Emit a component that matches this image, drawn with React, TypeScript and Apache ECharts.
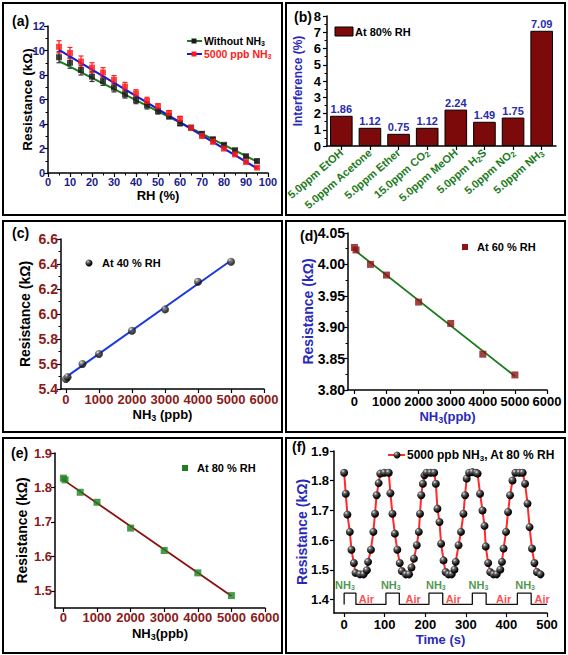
import React, { useEffect, useRef } from "react";
import * as echarts from "echarts";

const FONT = "'Liberation Sans', Arial, Helvetica, sans-serif";

// ---------- (a) Resistance vs RH ----------
const RH = [5, 10, 15, 20, 25, 30, 35, 40, 45, 50, 55, 60, 65, 70, 75, 80, 85, 90, 95];
const R_WITHOUT = [9.45, 9.0, 8.4, 7.87, 7.5, 6.97, 6.42, 5.96, 5.53, 5.06, 4.62, 4.06, 3.7, 3.2, 2.75, 2.3, 1.86, 1.37, 0.98];
const ERR_WITHOUT = [0.45, 0.45, 0.4, 0.4, 0.35, 0.35, 0.3, 0.3, 0.3, 0.25, 0.2, 0.2, 0.15, 0.15, 0.15, 0.1, 0.1, 0.1, 0.1];
const R_NH3 = [10.3, 9.8, 9.1, 8.6, 8.2, 7.6, 7.05, 6.5, 5.88, 5.45, 4.9, 4.42, 3.7, 3.02, 2.55, 1.99, 1.52, 0.9, 0.44];
const ERR_NH3 = [0.5, 0.45, 0.45, 0.4, 0.4, 0.35, 0.35, 0.3, 0.3, 0.2, 0.2, 0.2, 0.15, 0.15, 0.15, 0.1, 0.1, 0.1, 0.1];
const FIT_WITHOUT = [[5, 9.13], [95, 0.93]];
const FIT_NH3 = [[5, 10.05], [95, 0.38]];

// ---------- (b) Interference ----------
const GASES = ["5.0ppm EtOH", "5.0ppm Acetone", "5.0ppm Ether", "15.0ppm CO2", "5.0ppm MeOH", "5.0ppm H2S", "5.0ppm NO2", "5.0ppm NH3"];
const INTERFERENCE = [1.86, 1.12, 0.75, 1.12, 2.24, 1.49, 1.75, 7.09];

// ---------- (c)(d)(e) Resistance vs NH3 ----------
const PPB = [0, 50, 500, 1000, 2000, 3000, 4000, 5000];
const R_40 = [5.48, 5.495, 5.6, 5.68, 5.866, 6.037, 6.258, 6.418];
const FIT_40 = [[0, 5.495], [5000, 6.428]];
const R_60 = [4.027, 4.023, 4.0, 3.983, 3.94, 3.906, 3.857, 3.824];
const FIT_60 = [[0, 4.023], [5000, 3.822]];
const R_80 = [1.827, 1.822, 1.786, 1.757, 1.682, 1.617, 1.552, 1.486];
const FIT_80 = [[0, 1.822], [5000, 1.485]];
const PPB_TICKS = [0, 1000, 2000, 3000, 4000, 5000, 6000];

// ---------- (f) dynamic response ----------
const CYCLE = [
  [0, 1.827], [4, 1.756], [8, 1.686], [14, 1.628], [18, 1.568], [24, 1.523], [28, 1.49], [39, 1.485], [48, 1.485],
  [56, 1.499], [59, 1.527], [66, 1.568], [72, 1.628], [76, 1.689], [80, 1.751], [85, 1.792], [89, 1.824], [99, 1.827], [110, 1.827],
  [114, 1.758], [119, 1.689], [125, 1.622], [131, 1.568], [137, 1.523], [142, 1.496], [152, 1.485], [160, 1.485],
  [166, 1.508], [172, 1.538], [179, 1.583], [184, 1.628], [187, 1.689], [190, 1.751], [194, 1.79], [198, 1.818], [203, 1.827], [213, 1.827], [222, 1.827],
  [226, 1.79], [230, 1.706], [235, 1.661], [239, 1.588], [245, 1.532], [250, 1.493], [257, 1.485], [265, 1.485],
  [272, 1.501], [275, 1.527], [282, 1.583], [288, 1.628], [294, 1.689], [298, 1.751], [302, 1.807], [308, 1.827], [316, 1.829], [325, 1.827], [329, 1.824],
  [335, 1.756], [341, 1.7], [346, 1.648], [349, 1.579], [355, 1.523], [360, 1.493], [368, 1.485], [376, 1.485],
  [385, 1.501], [389, 1.527], [393, 1.572], [399, 1.628], [404, 1.695], [409, 1.751], [415, 1.801], [422, 1.827], [432, 1.827], [440, 1.827],
  [446, 1.79], [452, 1.723], [457, 1.644], [463, 1.572], [469, 1.523], [475, 1.493], [484, 1.485],
];
const PULSES = [[0, 29], [103, 136], [209, 243], [316, 350], [427, 461]];
const PULSE_LOW = 1.384;
const PULSE_HIGH = 1.422;
const PULSE_END = 500;
const NH3_LABEL_T = [2, 115, 226, 331, 446];
const NH3_LABEL_Y = 1.448;
const AIR_LABEL_T = [55, 170, 269, 393, 488];
const AIR_LABEL_Y = 1.403;
const TIME_TICKS = [0, 100, 200, 300, 400, 500];
const F_TICKS_Y = [1.4, 1.5, 1.6, 1.7, 1.8, 1.9];
const E_TICKS_Y = [1.5, 1.6, 1.7, 1.8, 1.9];

const subscript = (s: string) => s.replace(/([A-Z])(\d)/g, "$1{s|$2}");

const NAVY = "#1c1c8a";
const DARKRED = "#8b1a1a";
const BLUE = "#2a2ab8";
const GREEN = "#1e7b1e";

function sphere() {
  return new echarts.graphic.RadialGradient(0.35, 0.3, 0.75, [
    { offset: 0, color: "#f0f0f0" },
    { offset: 0.25, color: "#6a6a6a" },
    { offset: 0.7, color: "#111111" },
    { offset: 1, color: "#000000" },
  ]);
}

function subRich(size: number, color: string) {
  return {
    s: { fontSize: size, fontWeight: "bold", fontFamily: FONT, color, padding: [Math.round(size * 0.7), 0, 0, 0] },
  };
}

const plain = (v: number) => String(v);

function axisBase(labelColor: string, labelSize: number, margin: number) {
  return {
    nameMoveOverlap: false,
    axisLine: { show: true, onZero: false, lineStyle: { color: "#000", width: 1.5 } },
    axisTick: { show: true, length: 4, lineStyle: { color: "#000", width: 1.2 } },
    splitLine: { show: false },
    axisLabel: { color: labelColor, fontSize: labelSize, fontWeight: "bold", fontFamily: FONT, margin },
  };
}

function nameStyle(color: string, size: number) {
  return {
    color,
    fontSize: size,
    fontWeight: "bold",
    fontFamily: FONT,
    rich: subRich(Math.round(size * 0.7), color),
  };
}

function errorBars(xIdx: number, yIdx: number, xs: number[], ys: number[], es: number[], color: string) {
  return {
    type: "custom",
    xAxisIndex: xIdx,
    yAxisIndex: yIdx,
    z: 1,
    data: xs.map((x, i) => [x, ys[i], es[i]]),
    renderItem: (params: any, api: any) => {
      const x = api.value(0);
      const y = api.value(1);
      const e = api.value(2);
      const top = api.coord([x, y + e]);
      const bot = api.coord([x, y - e]);
      const w = 2.5;
      const st = { stroke: color, lineWidth: 1.2 };
      return {
        type: "group",
        children: [
          { type: "line", shape: { x1: top[0], y1: top[1], x2: bot[0], y2: bot[1] }, style: st },
          { type: "line", shape: { x1: top[0] - w, y1: top[1], x2: top[0] + w, y2: top[1] }, style: st },
          { type: "line", shape: { x1: bot[0] - w, y1: bot[1], x2: bot[0] + w, y2: bot[1] }, style: st },
        ],
      };
    },
  };
}

function pulseLine() {
  const pts: number[][] = [];
  PULSES.forEach(([a, b]) => {
    pts.push([a, PULSE_LOW]);
    pts.push([a, PULSE_HIGH]);
    pts.push([b, PULSE_HIGH]);
    pts.push([b, PULSE_LOW]);
  });
  pts.push([PULSE_END, PULSE_LOW]);
  return pts;
}

function buildOption() {
  const grids = [
    { left: 48, top: 26, width: 220, height: 147 },
    { left: 327, top: 16, width: 229, height: 130 },
    { left: 61, top: 239, width: 203, height: 150 },
    { left: 348, top: 233, width: 199, height: 157 },
    { left: 55, top: 453, width: 210, height: 155 },
    { left: 334, top: 451, width: 213, height: 162 },
  ];

  const xAxis: any[] = [
    {
      gridIndex: 0, type: "value", min: 0, max: 100, interval: 10,
      ...axisBase(NAVY, 11, 3),
      minorTick: { show: true, splitNumber: 2, length: 2.5, lineStyle: { color: "#000" } },
      name: "RH (%)", nameLocation: "middle", nameGap: 16, nameTextStyle: nameStyle("#000", 13),
    },
    {
      gridIndex: 1, type: "category", data: GASES,
      ...axisBase(GREEN, 11, 5),
      axisTick: { show: true, alignWithLabel: true, length: 4, lineStyle: { color: "#000", width: 1.2 } },
      axisLabel: {
        color: GREEN, fontSize: 11, fontWeight: "bold", fontFamily: FONT, rotate: 41, margin: 5, interval: 0,
        formatter: (v: string) => subscript(v),
        rich: subRich(8, GREEN),
      },
    },
    {
      gridIndex: 2, type: "value", min: -150, max: 6000,
      ...axisBase(DARKRED, 13, 4),
      axisLabel: { color: DARKRED, fontSize: 13, fontWeight: "bold", fontFamily: FONT, margin: 4, customValues: PPB_TICKS, formatter: plain },
      axisTick: { show: true, length: 4, customValues: PPB_TICKS, lineStyle: { color: "#000", width: 1.2 } },
      name: "NH{s|3} (ppb)", nameLocation: "middle", nameGap: 18, nameTextStyle: nameStyle("#000", 13),
    },
    {
      gridIndex: 3, type: "value", min: -200, max: 6000,
      ...axisBase("#000", 13, 5),
      axisLabel: { color: "#000", fontSize: 13, fontWeight: "bold", fontFamily: FONT, margin: 5, customValues: PPB_TICKS, formatter: plain },
      axisTick: { show: true, length: 4, customValues: PPB_TICKS, lineStyle: { color: "#000", width: 1.2 } },
      name: "NH{s|3}(ppb)", nameLocation: "middle", nameGap: 19, nameTextStyle: nameStyle(BLUE, 13),
    },
    {
      gridIndex: 4, type: "value", min: -250, max: 6000,
      ...axisBase(DARKRED, 13, 3),
      axisLabel: { color: DARKRED, fontSize: 13, fontWeight: "bold", fontFamily: FONT, margin: 3, customValues: PPB_TICKS, formatter: plain },
      axisTick: { show: true, length: 4, customValues: PPB_TICKS, lineStyle: { color: "#000", width: 1.2 } },
      name: "NH{s|3}(ppb)", nameLocation: "middle", nameGap: 18, nameTextStyle: nameStyle("#000", 13),
    },
    {
      gridIndex: 5, type: "value", min: -25, max: 500,
      ...axisBase("#000", 13, 5),
      axisLabel: { color: "#000", fontSize: 13, fontWeight: "bold", fontFamily: FONT, margin: 5, customValues: TIME_TICKS, formatter: plain },
      axisTick: { show: true, length: 4, customValues: TIME_TICKS, lineStyle: { color: "#000", width: 1.2 } },
      name: "Time (s)", nameLocation: "middle", nameGap: 20, nameTextStyle: nameStyle(BLUE, 13),
    },
  ];

  const yAxis: any[] = [
    {
      gridIndex: 0, type: "value", min: 0, max: 12, interval: 2,
      ...axisBase(NAVY, 11, 3),
      minorTick: { show: true, splitNumber: 2, length: 2.5, lineStyle: { color: "#000" } },
      name: "Resistance (kΩ)", nameLocation: "middle", nameGap: 14, nameTextStyle: nameStyle("#000", 13.5),
    },
    {
      gridIndex: 1, type: "value", min: 0, max: 8, interval: 1,
      ...axisBase("#000", 13, 6),
      minorTick: { show: true, splitNumber: 2, length: 2.5, lineStyle: { color: "#000" } },
      name: "Interference (%)", nameLocation: "middle", nameGap: 23, nameTextStyle: nameStyle(BLUE, 12),
    },
    {
      gridIndex: 2, type: "value", min: 5.4, max: 6.6, interval: 0.2,
      ...axisBase(DARKRED, 14, 3),
      axisLabel: { color: DARKRED, fontSize: 14, fontWeight: "bold", fontFamily: FONT, margin: 3, formatter: (v: number) => v.toFixed(1) },
      minorTick: { show: true, splitNumber: 2, length: 2.5, lineStyle: { color: "#000" } },
      name: "Resistance (kΩ)", nameLocation: "middle", nameGap: 29, nameTextStyle: nameStyle("#000", 14),
    },
    {
      gridIndex: 3, type: "value", min: 3.8, max: 4.05, interval: 0.05,
      ...axisBase("#000", 14, 3),
      axisLabel: { color: "#000", fontSize: 14, fontWeight: "bold", fontFamily: FONT, margin: 3, formatter: (v: number) => v.toFixed(2) },
      minorTick: { show: true, splitNumber: 2, length: 2.5, lineStyle: { color: "#000" } },
      name: "Resistance (kΩ)", nameLocation: "middle", nameGap: 33, nameTextStyle: nameStyle(BLUE, 14),
    },
    {
      gridIndex: 4, type: "value", min: 1.45, max: 1.9,
      ...axisBase(DARKRED, 13, 3),
      axisLabel: { color: DARKRED, fontSize: 13, fontWeight: "bold", fontFamily: FONT, margin: 3, customValues: E_TICKS_Y, formatter: (v: number) => v.toFixed(1) },
      axisTick: { show: true, length: 4, customValues: E_TICKS_Y, lineStyle: { color: "#000", width: 1.2 } },
      name: "Resistance (kΩ)", nameLocation: "middle", nameGap: 26, nameTextStyle: nameStyle("#000", 14),
    },
    {
      gridIndex: 5, type: "value", min: 1.355, max: 1.9,
      ...axisBase("#000", 13, 5),
      axisLabel: { color: "#000", fontSize: 13, fontWeight: "bold", fontFamily: FONT, margin: 5, customValues: F_TICKS_Y, formatter: (v: number) => v.toFixed(1) },
      axisTick: { show: true, length: 4, customValues: F_TICKS_Y, lineStyle: { color: "#000", width: 1.2 } },
      name: "Resistance (kΩ)", nameLocation: "middle", nameGap: 25, nameTextStyle: nameStyle(BLUE, 14),
    },
  ];

  const series: any[] = [
    // (a)
    errorBars(0, 0, RH, R_WITHOUT, ERR_WITHOUT, "#333"),
    errorBars(0, 0, RH, R_NH3, ERR_NH3, "#ff2020"),
    { type: "line", xAxisIndex: 0, yAxisIndex: 0, data: FIT_WITHOUT, symbol: "none", z: 2, lineStyle: { color: "#1d7a1d", width: 2 } },
    { type: "line", xAxisIndex: 0, yAxisIndex: 0, data: FIT_NH3, symbol: "none", z: 2, lineStyle: { color: "#1a1ad0", width: 2 } },
    { type: "scatter", xAxisIndex: 0, yAxisIndex: 0, data: RH.map((x, i) => [x, R_WITHOUT[i]]), symbol: "rect", symbolSize: 6, z: 3, itemStyle: { color: "#1a1a1a" } },
    { type: "scatter", xAxisIndex: 0, yAxisIndex: 0, data: RH.map((x, i) => [x, R_NH3[i]]), symbol: "rect", symbolSize: 6, z: 3, itemStyle: { color: "#ff1a1a" } },
    // (b)
    {
      type: "bar", xAxisIndex: 1, yAxisIndex: 1, data: INTERFERENCE, barWidth: "79%",
      itemStyle: { color: "#7d0a0a", borderColor: "#000", borderWidth: 1 },
      label: { show: true, position: "top", distance: 1, color: "#2a2ab0", fontSize: 11, fontWeight: "bold", fontFamily: FONT, formatter: (p: any) => p.value.toFixed(2) },
    },
    // (c)
    { type: "line", xAxisIndex: 2, yAxisIndex: 2, data: FIT_40, symbol: "none", lineStyle: { color: "#1a3adf", width: 2 } },
    { type: "scatter", xAxisIndex: 2, yAxisIndex: 2, data: PPB.map((x, i) => [x, R_40[i]]), symbol: "circle", symbolSize: 8, z: 3, itemStyle: { color: sphere() } },
    // (d)
    { type: "line", xAxisIndex: 3, yAxisIndex: 3, data: FIT_60, symbol: "none", lineStyle: { color: "#1d7a1d", width: 1.8 } },
    { type: "scatter", xAxisIndex: 3, yAxisIndex: 3, data: PPB.map((x, i) => [x, R_60[i]]), symbol: "rect", symbolSize: 7, z: 3, itemStyle: { color: "#8b1414" } },
    // (e)
    { type: "line", xAxisIndex: 4, yAxisIndex: 4, data: FIT_80, symbol: "none", lineStyle: { color: "#8b1010", width: 1.8 } },
    { type: "scatter", xAxisIndex: 4, yAxisIndex: 4, data: PPB.map((x, i) => [x, R_80[i]]), symbol: "rect", symbolSize: 7, z: 3, itemStyle: { color: "#1f7f1f" } },
    // (f)
    {
      type: "line", xAxisIndex: 5, yAxisIndex: 5, data: CYCLE, symbol: "circle", symbolSize: 8, showAllSymbol: true,
      lineStyle: { color: "#ff2a2a", width: 2 }, itemStyle: { color: sphere(), borderWidth: 0 },
    },
    { type: "line", xAxisIndex: 5, yAxisIndex: 5, data: pulseLine(), symbol: "none", lineStyle: { color: "#111", width: 1.3 } },
    {
      type: "scatter", xAxisIndex: 5, yAxisIndex: 5, data: NH3_LABEL_T.map((t) => [t, NH3_LABEL_Y]), symbolSize: 1,
      itemStyle: { color: "transparent" },
      label: { show: true, position: "inside", formatter: "NH{s|3}", color: GREEN, fontSize: 11, fontFamily: FONT, fontWeight: "bold", rich: subRich(7, GREEN) },
    },
    {
      type: "scatter", xAxisIndex: 5, yAxisIndex: 5, data: AIR_LABEL_T.map((t) => [t, AIR_LABEL_Y]), symbolSize: 1,
      itemStyle: { color: "transparent" },
      label: { show: true, position: "inside", formatter: "Air", color: "#ff2020", fontSize: 11, fontFamily: FONT, fontWeight: "bold" },
    },
  ];

  const border = (x: number, y: number, w: number, h: number) => ({
    type: "rect", shape: { x, y, width: w, height: h }, style: { fill: "none", stroke: "#000", lineWidth: 2 }, silent: true, z: 100,
  });
  const panelLabel = (t: string, x: number, y: number) => ({
    type: "text", x, y, style: { text: t, fill: "#000", font: `bold 14px ${FONT}`, verticalAlign: "middle" }, z: 100,
  });
  const legText = (t: string, x: number, y: number, color: string, size: number) => ({
    type: "text", x, y, z: 100,
    style: { text: t, fill: color, fontSize: size, fontWeight: "bold", fontFamily: FONT, verticalAlign: "middle", rich: subRich(Math.round(size * 0.7), color) },
  });
  const legLine = (x1: number, x2: number, y: number, color: string) => ({
    type: "line", shape: { x1, y1: y, x2, y2: y }, style: { stroke: color, lineWidth: 2 }, z: 100,
  });
  const legRect = (cx: number, cy: number, s: number, color: string) => ({
    type: "rect", shape: { x: cx - s / 2, y: cy - s / 2, width: s, height: s }, style: { fill: color }, z: 101,
  });
  const legSphere = (cx: number, cy: number, r: number) => ({
    type: "circle", shape: { cx, cy, r }, style: { fill: sphere() }, z: 101,
  });

  const graphic: any[] = [
    border(3, 3, 279, 212),
    border(286, 3, 279, 212),
    border(3, 221, 279, 211),
    border(286, 221, 279, 211),
    border(3, 438, 279, 215),
    border(286, 438, 279, 215),
    panelLabel("(a)", 12, 21),
    panelLabel("(b)", 294, 17),
    panelLabel("(c)", 12, 233),
    panelLabel("(d)", 300, 236),
    panelLabel("(e)", 11, 453),
    panelLabel("(f)", 292, 447),
    // (a) legend
    legLine(187, 202, 41, "#1d7a1d"), legRect(194, 41, 5, "#1a1a1a"),
    legText("Without NH{s|3}", 204, 41, "#000", 10.5),
    legLine(187, 202, 54, "#1a1ad0"), legRect(194, 54, 5, "#ff1a1a"),
    legText("5000 ppb NH{s|3}", 204, 54, "#ff1a1a", 10.5),
    // (b) legend
    { type: "rect", shape: { x: 335, y: 27, width: 18, height: 9 }, style: { fill: "#7d0a0a", stroke: "#000", lineWidth: 1 }, z: 100 },
    legText("At 80% RH", 355, 31.5, "#000", 11),
    // (c) legend
    legSphere(89, 263, 3.5),
    legText("At 40 % RH", 102, 263, "#000", 11),
    // (d) legend
    legRect(465, 247, 6, "#8b1414"),
    legText("At 60 % RH", 477, 247, "#000", 11),
    // (e) legend
    legRect(185, 468, 6, "#1f7f1f"),
    legText("At 80 % RH", 197, 468, "#000", 11),
    // (f) legend
    legLine(388, 405, 455, "#ff2a2a"), legSphere(397, 455, 3.5),
    legText("5000 ppb NH{s|3}, At 80 % RH", 407, 455, "#000", 12),
  ];

  return {
    animation: false,
    backgroundColor: "#fff",
    textStyle: { fontFamily: FONT },
    grid: grids,
    xAxis,
    yAxis,
    series,
    graphic,
  };
}

export default function App() {
  const ref = useRef<HTMLDivElement>(null);
  useEffect(() => {
    if (!ref.current) return;
    const chart = echarts.init(ref.current, undefined, { renderer: "svg" });
    chart.setOption(buildOption() as any);
    return () => chart.dispose();
  }, []);
  return <div ref={ref} style={{ position: "fixed", left: 0, top: 0, width: 568, height: 655, background: "#fff" }} />;
}
